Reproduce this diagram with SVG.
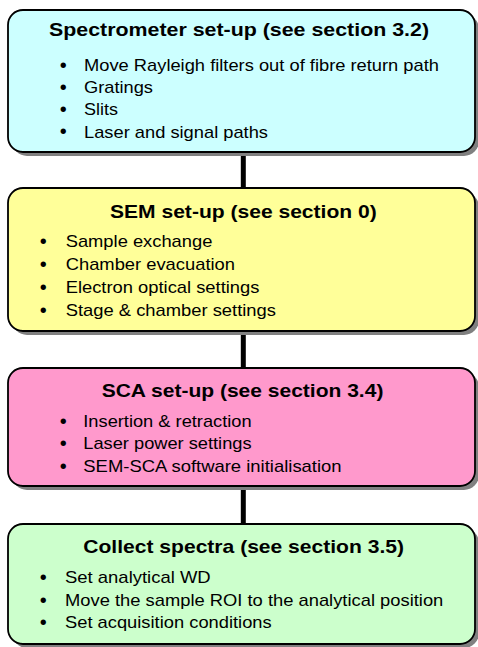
<svg xmlns="http://www.w3.org/2000/svg" width="478" height="647" viewBox="0 0 478 647">
<style>
.shadow{fill:#808080;stroke:none}
.box{stroke:#000;stroke-width:1.8}
.title{font-family:"Liberation Sans",Arial,sans-serif;font-weight:bold;font-size:18.5px;fill:#000}
.item{font-family:"Liberation Sans",Arial,sans-serif;font-size:17px;fill:#000}
.dot{font-family:"Liberation Sans",Arial,sans-serif;font-size:20px;fill:#000}
.conn{stroke:#000;stroke-width:5}
</style>
<rect width="478" height="647" fill="#fff"/>
<g id="connectors">
<line class="conn" x1="243.3" y1="152" x2="243.3" y2="188"/>
<line class="conn" x1="243.3" y1="331" x2="243.3" y2="368"/>
<line class="conn" x1="243.3" y1="486" x2="243.3" y2="524"/>
</g>
<g id="spectrometer">
<rect class="shadow" x="12" y="14" width="467" height="142" rx="15"/>
<rect class="box" x="8" y="10" width="467" height="142" rx="15" fill="#ccffff"/>
<text class="title" x="49" y="35.7" textLength="380" lengthAdjust="spacingAndGlyphs">Spectrometer set-up (see section 3.2)</text>
<text class="dot" x="59.8" y="71.5">•</text>
<text class="item" x="84" y="70.7" textLength="355" lengthAdjust="spacingAndGlyphs">Move Rayleigh filters out of fibre return path</text>
<text class="dot" x="59.8" y="93.8">•</text>
<text class="item" x="84" y="93" textLength="69" lengthAdjust="spacingAndGlyphs">Gratings</text>
<text class="dot" x="59.8" y="116.1">•</text>
<text class="item" x="84" y="115.3" textLength="34" lengthAdjust="spacingAndGlyphs">Slits</text>
<text class="dot" x="59.8" y="138.4">•</text>
<text class="item" x="84" y="137.6" textLength="184" lengthAdjust="spacingAndGlyphs">Laser and signal paths</text>
</g>
<g id="sem">
<rect class="shadow" x="12" y="192" width="467" height="143" rx="15"/>
<rect class="box" x="8" y="188" width="467" height="143" rx="15" fill="#ffff99"/>
<text class="title" x="110" y="218.3" textLength="266.7" lengthAdjust="spacingAndGlyphs">SEM set-up (see section 0)</text>
<text class="dot" x="39.8" y="248.1">•</text>
<text class="item" x="65.7" y="247.3" textLength="146.7" lengthAdjust="spacingAndGlyphs">Sample exchange</text>
<text class="dot" x="39.8" y="271.1">•</text>
<text class="item" x="65.7" y="270.3" textLength="169.3" lengthAdjust="spacingAndGlyphs">Chamber evacuation</text>
<text class="dot" x="39.8" y="294.1">•</text>
<text class="item" x="65.7" y="293.3" textLength="193.7" lengthAdjust="spacingAndGlyphs">Electron optical settings</text>
<text class="dot" x="39.8" y="316.8">•</text>
<text class="item" x="65.7" y="316" textLength="210.3" lengthAdjust="spacingAndGlyphs">Stage &amp; chamber settings</text>
</g>
<g id="sca">
<rect class="shadow" x="12" y="372" width="467" height="118" rx="15"/>
<rect class="box" x="8" y="368" width="467" height="118" rx="15" fill="#ff99cc"/>
<text class="title" x="101.7" y="396.7" textLength="281.7" lengthAdjust="spacingAndGlyphs">SCA set-up (see section 3.4)</text>
<text class="dot" x="59.8" y="427.5">•</text>
<text class="item" x="83.3" y="426.7" textLength="168.3" lengthAdjust="spacingAndGlyphs">Insertion &amp; retraction</text>
<text class="dot" x="59.8" y="450.1">•</text>
<text class="item" x="83.3" y="449.3" textLength="168.3" lengthAdjust="spacingAndGlyphs">Laser power settings</text>
<text class="dot" x="59.8" y="472.5">•</text>
<text class="item" x="83.3" y="471.7" textLength="258.3" lengthAdjust="spacingAndGlyphs">SEM-SCA software initialisation</text>
</g>
<g id="collect">
<rect class="shadow" x="12" y="528" width="467" height="120" rx="15"/>
<rect class="box" x="8" y="524" width="467" height="120" rx="15" fill="#ccffcc"/>
<text class="title" x="83.3" y="553.3" textLength="320.7" lengthAdjust="spacingAndGlyphs">Collect spectra (see section 3.5)</text>
<text class="dot" x="39.8" y="584.1">•</text>
<text class="item" x="65" y="583.3" textLength="145.7" lengthAdjust="spacingAndGlyphs">Set analytical WD</text>
<text class="dot" x="39.8" y="606.8">•</text>
<text class="item" x="65" y="606" textLength="378.3" lengthAdjust="spacingAndGlyphs">Move the sample ROI to the analytical position</text>
<text class="dot" x="39.8" y="629.1">•</text>
<text class="item" x="65" y="628.3" textLength="206.7" lengthAdjust="spacingAndGlyphs">Set acquisition conditions</text>
</g>
</svg>
